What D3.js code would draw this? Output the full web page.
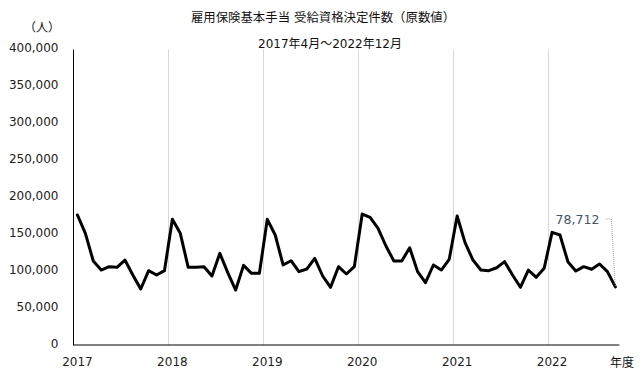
<!DOCTYPE html>
<html><head><meta charset="utf-8">
<script src="https://cdn.jsdelivr.net/npm/d3@7"></script>
<style>
body{margin:0;background:#fff;}
svg text{font-family:"DejaVu Sans","Noto Sans CJK JP",sans-serif;}
</style></head>
<body><svg id="c" width="643" height="379"></svg>
<script>
const title = "雇用保険基本手当 受給資格決定件数（原数値）";
const subtitle = "2017年4月～2022年12月";
const unitLabel = "（人）";
const xUnit = "年度";
const months = [
 "2017-04","2017-05","2017-06","2017-07","2017-08","2017-09","2017-10","2017-11","2017-12","2018-01","2018-02","2018-03",
 "2018-04","2018-05","2018-06","2018-07","2018-08","2018-09","2018-10","2018-11","2018-12","2019-01","2019-02","2019-03",
 "2019-04","2019-05","2019-06","2019-07","2019-08","2019-09","2019-10","2019-11","2019-12","2020-01","2020-02","2020-03",
 "2020-04","2020-05","2020-06","2020-07","2020-08","2020-09","2020-10","2020-11","2020-12","2021-01","2021-02","2021-03",
 "2021-04","2021-05","2021-06","2021-07","2021-08","2021-09","2021-10","2021-11","2021-12","2022-01","2022-02","2022-03",
 "2022-04","2022-05","2022-06","2022-07","2022-08","2022-09","2022-10","2022-11","2022-12"];
const values = [
 176000,151200,113700,101500,106000,105100,115000,94800,75800,100600,94800,100600,
 170100,151200,105100,105100,106000,93400,124100,97900,74400,107800,97000,97000,
 170100,148900,108300,114100,99300,102900,117300,93400,78100,106000,96100,106000,
 177300,172800,158000,134000,113700,113700,131700,99300,84300,108300,101500,116000,
 174600,138500,115000,101500,100600,104600,112800,94800,78100,101500,91600,103800,
 152500,148900,112800,100200,106000,102500,109600,99300,78712];
const yearLabels = ["2017","2018","2019","2020","2021","2022"];
const yearStartMonths = ["2017-04","2018-04","2019-04","2020-04","2021-04","2022-04"];
const yTicks = [0,50000,100000,150000,200000,250000,300000,350000,400000];

const svg = d3.select("#c");
const L = 73.5, R = 619.3, T = 49.5, B = 345;
const x = d3.scaleBand().domain(months).range([L, R]);
const y = d3.scaleLinear().domain([0, 400000]).range([B, T]);
const cx = m => x(m) + x.bandwidth()/2;

// vertical gridlines at year boundaries (excluding first)
svg.append("g").selectAll("line").data(yearStartMonths.slice(1)).join("line")
  .attr("x1", d => Math.round(x(d))+0.5).attr("x2", d => Math.round(x(d))+0.5)
  .attr("y1", T).attr("y2", B).attr("stroke", "#d9d9d9").attr("stroke-width", 1);

// y axis
const yAxis = d3.axisLeft(y).tickValues(yTicks).tickSize(0).tickPadding(0)
  .tickFormat(d3.format(","));
const gy = svg.append("g").attr("transform", `translate(${L},0)`).call(yAxis);
gy.select(".domain").remove();
gy.selectAll("text").attr("x", -15).attr("dy", "0.2em").attr("font-size", 12).attr("fill", "#222")
  .style("font-family", "'DejaVu Sans',sans-serif");

// x axis labels
const xAxis = d3.axisBottom(x).tickValues(yearStartMonths).tickSize(0).tickPadding(0)
  .tickFormat((d,i) => yearLabels[yearStartMonths.indexOf(d)]);
const gx = svg.append("g").attr("transform", `translate(0,${B})`).call(xAxis);
gx.select(".domain").remove();
gx.selectAll("text").attr("y", 12).attr("font-size", 12).attr("fill", "#222");

// axis lines
svg.append("line").attr("x1", L).attr("x2", L).attr("y1", T).attr("y2", B+0.5).attr("stroke", "#000").attr("stroke-width", 1);
svg.append("line").attr("x1", L).attr("x2", R).attr("y1", B).attr("y2", B).attr("stroke", "#000").attr("stroke-width", 1);

// line
const line = d3.line().x((d,i) => cx(months[i])).y(d => y(d));
svg.append("path").datum(values).attr("d", line).attr("fill", "none")
  .attr("stroke", "#000").attr("stroke-width", 3).attr("stroke-linejoin", "round").attr("stroke-linecap", "round");

// last value label with leader
const lastM = months[months.length-1], lastV = values[values.length-1];
const lx = cx(lastM), ly = y(lastV);
svg.append("polyline").attr("points", `${lx-10},${219} ${lx-4},${219} ${lx},${ly}`)
  .attr("fill", "none").attr("stroke", "#a6a6a6").attr("stroke-width", 1).attr("stroke-dasharray", "1,1");
svg.append("text").attr("x", lx-16).attr("y", 223.5).attr("text-anchor", "end")
  .attr("font-size", 12.5).attr("fill", "#44546a").text(d3.format(",")(lastV));

// titles
svg.append("text").attr("x", 323).attr("y", 22).attr("text-anchor", "middle").attr("font-size", 12.4).attr("fill", "#111").text(title);
svg.append("text").attr("x", 330).attr("y", 47.5).attr("text-anchor", "middle").attr("font-size", 12).attr("fill", "#111").text(subtitle);
svg.append("text").attr("x", 42).attr("y", 32).attr("text-anchor", "middle").attr("font-size", 12).attr("fill", "#111").text(unitLabel);
svg.append("text").attr("x", 622).attr("y", B+22).attr("text-anchor", "middle").attr("font-size", 12).attr("fill", "#111").text(xUnit);
</script></body></html>
